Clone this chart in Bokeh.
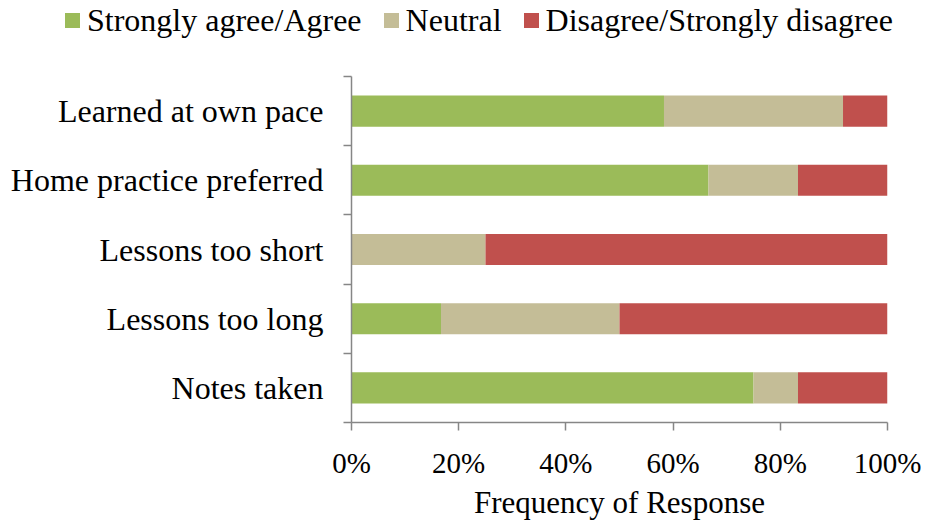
from bokeh.plotting import figure
from bokeh.layouts import column
from bokeh.models import ColumnDataSource, Range1d, FixedTicker, PrintfTickFormatter, Div
from bokeh.embed import file_html
from bokeh.resources import INLINE

categories = ["Notes taken", "Lessons too long", "Lessons too short",
              "Home practice preferred", "Learned at own pace"]
agree = [75.0, 16.7, 0.0, 66.6, 58.3]
neutral = [8.3, 33.3, 25.0, 16.7, 33.4]
disagree = [16.7, 50.0, 75.0, 16.7, 8.3]
series_names = ["Strongly agree/Agree", "Neutral", "Disagree/Strongly disagree"]
series_keys = ["agree", "neutral", "disagree"]
colors = ["#9BBB59", "#C4BD97", "#C0504D"]
x_ticks = [0, 20, 40, 60, 80, 100]

FONT = "Liberation Serif"
W = 921
H_TOP = 44
H_MAIN = 478

# ---- legend strip (HTML, real text) ----
items_html = "".join(
    f'<span style="display:inline-flex;align-items:center;margin-right:22px;">'
    f'<span style="display:inline-block;width:15px;height:15px;background:{c};margin-right:7px;"></span>'
    f'<span>{n}</span></span>'
    for n, c in zip(series_names, colors)
)
legend_div = Div(
    text=f'<div style="display:flex;align-items:center;white-space:nowrap;padding-left:65px;padding-top:3px;'
         f'font-family:\'{FONT}\';font-size:32px;color:black;line-height:1.107;">{items_html}</div>',
    width=W, height=H_TOP, styles={"margin": "0", "padding": "0"},
)

# ---- main chart ----
ypos = [i + 0.5 for i in range(len(categories))]
source = ColumnDataSource(dict(y=ypos, agree=agree, neutral=neutral, disagree=disagree))

p = figure(width=W, height=H_MAIN, output_backend="svg", toolbar_location=None,
           x_range=Range1d(0, 100), y_range=Range1d(0, len(categories)),
           min_border_left=351, min_border_right=34, min_border_top=32, min_border_bottom=90)
p.outline_line_color = None
p.xgrid.visible = False
p.ygrid.visible = False

p.hbar_stack(series_keys, y="y", height=0.45, color=colors, line_color=None, source=source)

xa = p.xaxis[0]
xa.ticker = FixedTicker(ticks=x_ticks, minor_ticks=[])
xa.formatter = PrintfTickFormatter(format="%d%%")
xa.axis_line_color = "#868686"
xa.axis_line_width = 1.5
xa.major_tick_line_color = "#868686"
xa.major_tick_line_width = 1.5
xa.major_tick_out = 8
xa.major_tick_in = 0
xa.minor_tick_line_color = None
xa.major_label_standoff = 16
xa.major_label_text_font = FONT
xa.major_label_text_font_size = "29px"
xa.major_label_text_color = "black"
xa.axis_label = "Frequency of Response"
xa.axis_label_text_font = FONT
xa.axis_label_text_font_size = "31px"
xa.axis_label_text_font_style = "normal"
xa.axis_label_text_color = "black"
xa.axis_label_standoff = 3

ya = p.yaxis[0]
ya.ticker = FixedTicker(ticks=ypos, minor_ticks=list(range(len(categories) + 1)))
ya.major_label_overrides = {y: c for y, c in zip(ypos, categories)}
ya.axis_line_color = "#868686"
ya.axis_line_width = 1.5
ya.major_tick_line_color = None
ya.major_tick_out = 0
ya.major_tick_in = 0
ya.minor_tick_line_color = "#868686"
ya.minor_tick_line_width = 1.5
ya.minor_tick_out = 8
ya.minor_tick_in = 0
ya.major_label_standoff = 20
ya.major_label_text_font = FONT
ya.major_label_text_font_size = "32px"
ya.major_label_text_color = "black"

layout = column(legend_div, p, spacing=0)
open("out.html", "w").write(file_html(layout, INLINE))
